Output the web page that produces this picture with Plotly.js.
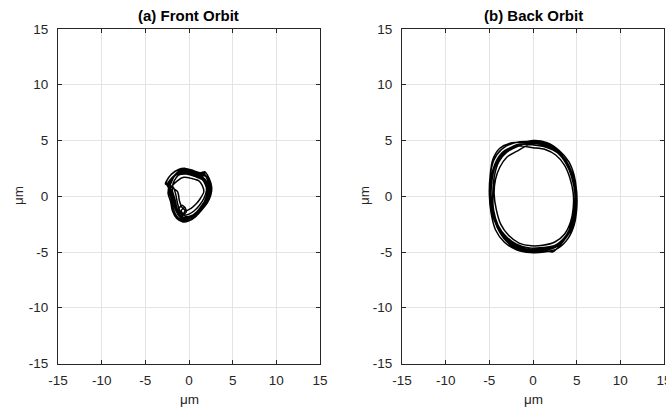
<!DOCTYPE html>
<html><head><meta charset="utf-8">
<script src="https://cdn.plot.ly/plotly-3.0.1.min.js"></script>
<style>html,body{margin:0;padding:0;background:#fff}#chart{width:666px;height:409px}</style>
</head><body><div id="chart"></div>
<script>
// Front orbit: successive revolutions (μm)
const frontX = [
 -2.3,-1.7,-0.8,0.2,1.0,1.6,2.1,2.3,2.0,1.5,0.9,0.2,-0.5,-1.1,-1.5,-1.7,-2.0,
 -2.2,-1.5,-0.6,0.3,1.1,1.8,2.2,2.4,2.1,1.6,1.0,0.3,-0.4,-1.0,-1.4,-1.8,-2.1,
 -2.4,-1.8,-1.0,-0.1,0.8,1.5,2.0,2.2,1.9,1.4,0.8,0.1,-0.6,-1.2,-1.6,-1.8,-2.1,
 -2.2,-1.6,-0.7,0.1,0.9,1.7,2.3,2.5,2.2,1.7,1.1,0.4,-0.3,-0.9,-1.2,-0.8,-0.4,-0.7,-1.4,-1.7,-2.0,
 -2.3,-1.7,-0.9,0.0,0.9,1.5,1.9,2.1,1.8,1.3,0.7,0.0,-0.6,-1.1,-1.4,-1.6,-1.9,
 -1.8,-1.2,-0.3,0.6,1.3,1.9,2.0,1.7,1.2,0.6,0.0,-0.6,-1.0,-1.3,-1.5,-1.8,
 -2.7,-2.1,-1.2,-0.4,0.5,1.3,1.8,2.3,2.6,2.5,2.1,1.5,0.8,0.0,-0.7,-1.4,-1.9,-2.1,-2.4,
 -2.1,-1.5,-0.8,0.2,1.2,1.9,2.3,2.4,2.0,1.5,0.9,0.2,-0.5,-1.1,-1.6,-1.9,-2.2,
 -1.3,-0.6,0.3,1.1,1.5,1.7,1.3,0.8,0.2,-0.3,-0.8,-1.1,-1.3,
 -2.6,-2.0,-1.1,-0.3,0.6,1.4,1.9,2.4,2.6,2.3,1.9,1.3,0.6,-0.1,-0.8,-1.4,-1.8,-2.0,-2.3,
 -2.0,-1.4,-0.5,0.4,1.2,1.7,2.1,2.2,1.9,1.4,0.8,0.2,-0.4,-0.9,-0.5,-0.3,-0.8,-1.3,-1.6,-1.9,
 -2.5,-1.9,-1.1,-0.2,0.7,1.4,2.0,2.3,2.1,1.6,1.0,0.3,-0.4,-1.0,-1.4,-1.7,-2.1,-2.5
];
const frontY = [
 1.0,1.8,2.2,2.1,1.8,1.7,1.2,0.5,-0.2,-0.8,-1.4,-1.9,-2.0,-1.7,-1.0,-0.3,0.4,
 1.2,2.0,2.3,2.0,1.9,1.9,1.3,0.4,-0.3,-0.9,-1.5,-1.9,-2.1,-1.9,-1.2,-0.4,0.5,
 0.9,1.7,2.1,2.2,1.9,1.6,1.0,0.3,-0.4,-1.0,-1.5,-1.8,-1.9,-1.6,-0.9,-0.1,0.5,
 1.1,1.9,2.4,2.3,2.0,2.0,1.4,0.6,-0.1,-0.7,-1.3,-1.8,-2.0,-1.7,-1.2,-0.8,-1.1,-1.6,-1.3,-0.5,0.3,
 1.1,1.8,2.1,2.0,1.7,1.5,1.0,0.3,-0.4,-1.1,-1.6,-2.0,-2.2,-1.8,-1.1,-0.3,0.5,
 1.2,1.9,2.0,1.8,1.6,1.2,0.5,-0.2,-0.8,-1.3,-1.6,-1.7,-1.4,-0.7,0.1,0.8,
 1.1,1.9,2.4,2.5,2.3,2.1,2.2,1.6,0.8,0.1,-0.6,-1.2,-1.8,-2.2,-2.3,-2.0,-1.3,-0.5,0.3,
 1.3,2.0,2.4,2.2,1.9,1.8,1.2,0.5,-0.2,-0.8,-1.4,-1.8,-2.0,-1.8,-1.1,-0.2,0.6,
 1.4,1.7,1.6,1.4,1.0,0.4,-0.2,-0.7,-1.1,-1.3,-1.0,-0.4,0.4,
 1.2,2.0,2.4,2.4,2.2,2.0,2.1,1.4,0.6,-0.1,-0.7,-1.3,-1.9,-2.2,-2.2,-1.8,-1.1,-0.3,0.5,
 1.3,2.1,2.3,2.1,1.8,1.6,1.0,0.4,-0.3,-0.9,-1.5,-1.8,-1.8,-1.3,-1.0,-1.4,-1.7,-1.2,-0.4,0.4,
 1.0,1.7,2.2,2.3,2.0,1.7,1.1,0.4,-0.3,-0.9,-1.4,-1.9,-2.1,-1.8,-1.0,-0.2,0.4,1.0
];
// Back orbit: successive revolutions (μm)
const backX = [
 0.0,1.5,2.8,3.9,4.5,4.85,4.8,4.5,3.8,2.6,1.2,-0.2,-1.7,-3.0,-4.0,-4.6,-4.85,-4.7,-4.2,-3.3,-1.9,
 0.3,1.7,3.0,4.0,4.6,4.9,4.85,4.6,3.9,2.8,1.4,0.0,-1.5,-2.9,-3.9,-4.6,-4.9,-4.8,-4.4,-3.5,-2.0,
 0.0,1.4,2.6,3.6,4.2,4.6,4.6,4.3,3.6,2.5,1.1,-0.2,-1.6,-2.8,-3.7,-4.2,-4.45,-4.3,-3.8,-3.0,-1.7,
 -0.2,1.3,2.6,3.7,4.4,4.8,4.75,4.4,3.7,2.5,1.0,-0.4,-1.9,-3.2,-4.2,-4.7,-4.9,-4.75,-4.3,-3.4,-2.1,
 0.1,1.6,2.9,4.0,4.55,4.9,4.9,4.55,3.9,2.7,1.3,0.0,-1.6,-2.9,-3.9,-4.55,-4.8,-4.65,-4.1,-3.1,-1.8,
 0.0,1.6,3.0,4.1,4.7,5.0,5.0,4.7,4.0,2.8,1.3,-0.3,-1.9,-3.3,-4.3,-4.8,-5.0,-4.9,-4.5,-3.6,-2.1,
 -0.1,1.4,2.7,3.8,4.5,4.85,4.8,4.5,3.6,2.2,1.0,-0.3,-1.8,-3.1,-4.1,-4.65,-4.85,-4.7,-4.2,-3.2,-1.8,
 0.1,1.5,2.8,3.8,4.4,4.8,4.75,4.4,3.7,2.5,1.1,-0.4,-1.9,-3.1,-4.0,-4.5,-4.6,-4.4,-3.9,-3.0,-1.8,
 -0.2,1.2,2.6,3.8,4.5,4.9,4.85,4.5,3.8,2.6,1.2,-0.3,-1.8,-3.1,-4.1,-4.7,-4.95,-4.9,-4.6,-3.8,-2.4,
 0.2,1.6,2.9,3.9,4.5,4.8,4.8,4.4,3.7,2.6,1.2,-0.3,-1.7,-3.0,-4.0,-4.6,-4.85,-4.75,-4.25,-3.4,-2.0,0.0
];
const backY = [
 4.8,4.6,4.0,3.0,1.8,0.3,-1.2,-2.5,-3.7,-4.5,-4.8,-4.9,-4.6,-3.9,-2.8,-1.4,0.2,1.6,2.9,3.9,4.6,
 4.9,4.5,3.9,2.8,1.6,0.2,-1.3,-2.6,-3.6,-4.4,-4.7,-4.8,-4.7,-4.1,-3.0,-1.6,0.0,1.5,2.8,3.8,4.5,
 4.35,4.2,3.7,2.8,1.7,0.3,-1.1,-2.3,-3.4,-4.1,-4.4,-4.45,-4.2,-3.5,-2.5,-1.2,0.2,1.5,2.6,3.5,4.1,
 4.7,4.7,4.1,3.2,2.0,0.5,-1.0,-2.4,-3.8,-4.6,-4.9,-5.0,-4.6,-3.8,-2.6,-1.3,0.3,1.7,3.0,4.0,4.5,
 4.85,4.55,3.95,2.9,1.7,0.4,-1.1,-2.5,-3.6,-4.4,-4.8,-4.85,-4.5,-3.9,-2.9,-1.5,0.1,1.7,3.1,4.0,4.6,
 5.0,4.8,4.1,3.1,1.9,0.4,-1.2,-2.6,-3.8,-4.7,-5.0,-5.05,-4.8,-4.1,-3.0,-1.5,0.2,1.8,3.2,4.2,4.8,
 4.9,4.65,4.05,3.1,1.9,0.3,-1.2,-2.6,-3.9,-5.0,-4.7,-4.85,-4.55,-3.8,-2.7,-1.4,0.2,1.8,3.0,3.95,4.65,
 4.6,4.4,3.9,2.9,1.8,0.3,-1.2,-2.5,-3.6,-4.4,-4.6,-4.65,-4.3,-3.6,-2.6,-1.3,0.3,1.9,3.1,3.95,4.45,
 4.95,4.8,4.2,3.2,2.0,0.4,-1.2,-2.5,-3.7,-4.55,-4.85,-4.9,-4.75,-4.0,-2.8,-1.4,0.3,1.9,3.3,4.3,4.8,
 4.75,4.5,3.9,2.9,1.8,0.2,-1.3,-2.6,-3.7,-4.5,-4.85,-4.95,-4.65,-4.0,-2.9,-1.5,0.0,1.6,2.85,3.85,4.55,4.8
];
const tickValues = [-15,-10,-5,0,5,10,15];
const tickLabels = ['-15','-10','-5','0','5','10','15'];
const titles = ['(a) Front Orbit', '(b) Back Orbit'];
const unitLabel = '\u03bcm';

const fam = 'Liberation Sans, Arial, sans-serif';
const font = {family: fam, size: 13.5, color: '#262626'};
function ax(domain, anchor, standoff) {
  return {
    domain: domain, anchor: anchor, range: [-15, 15],
    tickmode: 'array', tickvals: tickValues, ticktext: tickLabels,
    ticks: 'inside', ticklen: 4, tickcolor: '#262626', tickwidth: 1,
    showline: true, linecolor: '#262626', linewidth: 1, mirror: 'ticks',
    showgrid: true, gridcolor: '#e3e3e3', gridwidth: 1, zeroline: false,
    tickfont: font, fixedrange: true, ticklabeloverflow: 'allow', ticklabelstandoff: standoff
  };
}
const traces = [
  {x: frontX, y: frontY, xaxis: 'x', yaxis: 'y', mode: 'lines', line: {color: '#000', width: 1.5, shape: 'spline', smoothing: 0.7}, hoverinfo: 'skip'},
  {x: backX, y: backY, xaxis: 'x2', yaxis: 'y2', mode: 'lines', line: {color: '#000', width: 1.5, shape: 'spline', smoothing: 0.8}, hoverinfo: 'skip'}
];
const yd = [1 - 363.5/409, 1 - 29/409];
function ann(text, xpx, ypx, size, color, angle) {
  return {text: text, x: xpx/666, y: 1 - ypx/409, xref: 'paper', yref: 'paper', xanchor: 'center', yanchor: 'middle',
          showarrow: false, textangle: angle || 0, font: {family: fam, size: size, color: color}};
}
const layout = {
  width: 666, height: 409, margin: {l: 0, r: 0, t: 0, b: 0},
  paper_bgcolor: '#fff', plot_bgcolor: '#fff', showlegend: false, font: font,
  xaxis: ax([58/666, 320/666], 'y', 4),
  yaxis: ax(yd, 'x', 6),
  xaxis2: ax([402/666, 664/666], 'y2', 4),
  yaxis2: ax(yd, 'x2', 6),
  annotations: [
    ann('<b>' + titles[0] + '</b>', 188, 16, 15, '#000'),
    ann('<b>' + titles[1] + '</b>', 533, 16, 15, '#000'),
    ann(unitLabel, 189, 399, 13.5, '#262626'),
    ann(unitLabel, 533, 399, 13.5, '#262626'),
    ann(unitLabel, 18, 196, 13.5, '#262626', -90),
    ann(unitLabel, 364, 196, 13.5, '#262626', -90)
  ]
};
Plotly.newPlot('chart', traces, layout, {staticPlot: true, displayModeBar: false});
</script>
</body></html>
